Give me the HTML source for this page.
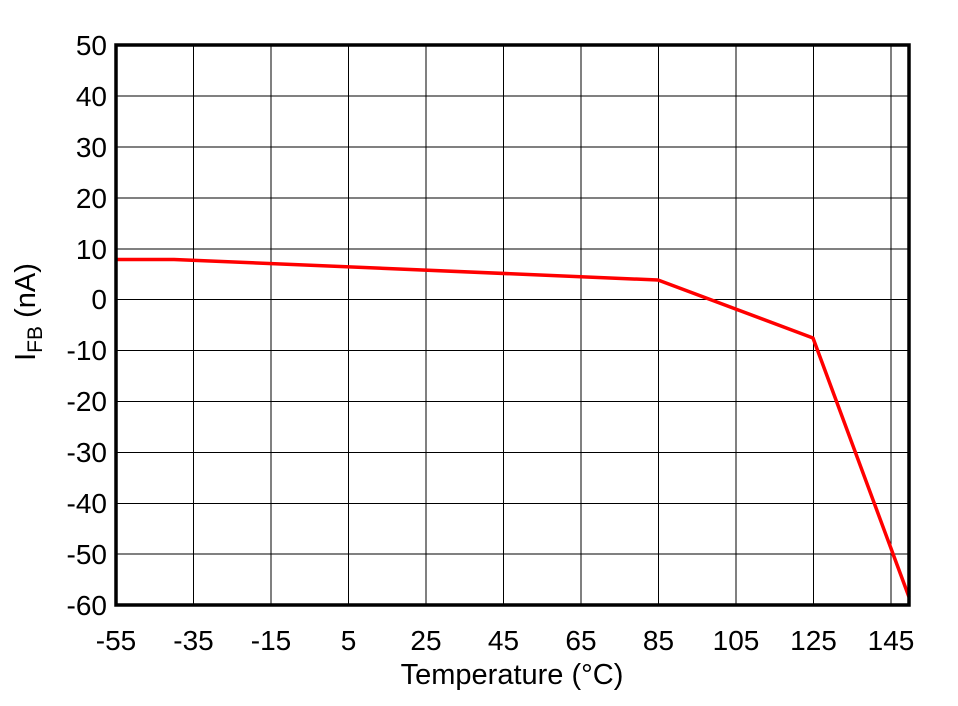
<!DOCTYPE html>
<html><head><style>body{margin:0;background:#fff}</style></head><body>
<svg width="958" height="701" xmlns="http://www.w3.org/2000/svg" font-family="Liberation Sans, Arial, sans-serif">
<rect width="958" height="701" fill="#fff"/>
<g stroke="#000" stroke-width="1">
<line x1="193.5" y1="45" x2="193.5" y2="605"/><line x1="271" y1="45" x2="271" y2="605"/><line x1="348.5" y1="45" x2="348.5" y2="605"/><line x1="426" y1="45" x2="426" y2="605"/><line x1="503.5" y1="45" x2="503.5" y2="605"/><line x1="581" y1="45" x2="581" y2="605"/><line x1="658.5" y1="45" x2="658.5" y2="605"/><line x1="736" y1="45" x2="736" y2="605"/><line x1="813.5" y1="45" x2="813.5" y2="605"/><line x1="891" y1="45" x2="891" y2="605"/>
<line x1="116" y1="96" x2="909" y2="96"/><line x1="116" y1="147" x2="909" y2="147"/><line x1="116" y1="198" x2="909" y2="198"/><line x1="116" y1="249" x2="909" y2="249"/><line x1="116" y1="299.5" x2="909" y2="299.5"/><line x1="116" y1="350.5" x2="909" y2="350.5"/><line x1="116" y1="401.5" x2="909" y2="401.5"/><line x1="116" y1="452.5" x2="909" y2="452.5"/><line x1="116" y1="503.5" x2="909" y2="503.5"/><line x1="116" y1="554" x2="909" y2="554"/>
</g>
<polyline points="116,259.5 174,259.5 658,280 813,338 909,597" fill="none" stroke="#f00" stroke-width="3.5" stroke-linejoin="round"/>
<rect x="116" y="45" width="793" height="560" fill="none" stroke="#000" stroke-width="3.5"/>
<g font-size="28" text-anchor="end">
<text x="107" y="55">50</text><text x="107" y="106">40</text><text x="107" y="157">30</text><text x="107" y="208">20</text><text x="107" y="259">10</text><text x="107" y="309">0</text><text x="107" y="360">-10</text><text x="107" y="411">-20</text><text x="107" y="462">-30</text><text x="107" y="513">-40</text><text x="107" y="564">-50</text><text x="107" y="615">-60</text>
</g>
<g font-size="28" text-anchor="middle">
<text x="116" y="650">-55</text><text x="193.5" y="650">-35</text><text x="271" y="650">-15</text><text x="348.5" y="650">5</text><text x="426" y="650">25</text><text x="503.5" y="650">45</text><text x="581" y="650">65</text><text x="658.5" y="650">85</text><text x="736" y="650">105</text><text x="813.5" y="650">125</text><text x="891" y="650">145</text>
<text x="512" y="684" font-size="29">Temperature (°C)</text>
</g>
<text transform="translate(35,312) rotate(-90)" font-size="29" text-anchor="middle">I<tspan font-size="21" dy="7">FB</tspan><tspan dy="-7"> (nA)</tspan></text>
</svg>
</body></html>
